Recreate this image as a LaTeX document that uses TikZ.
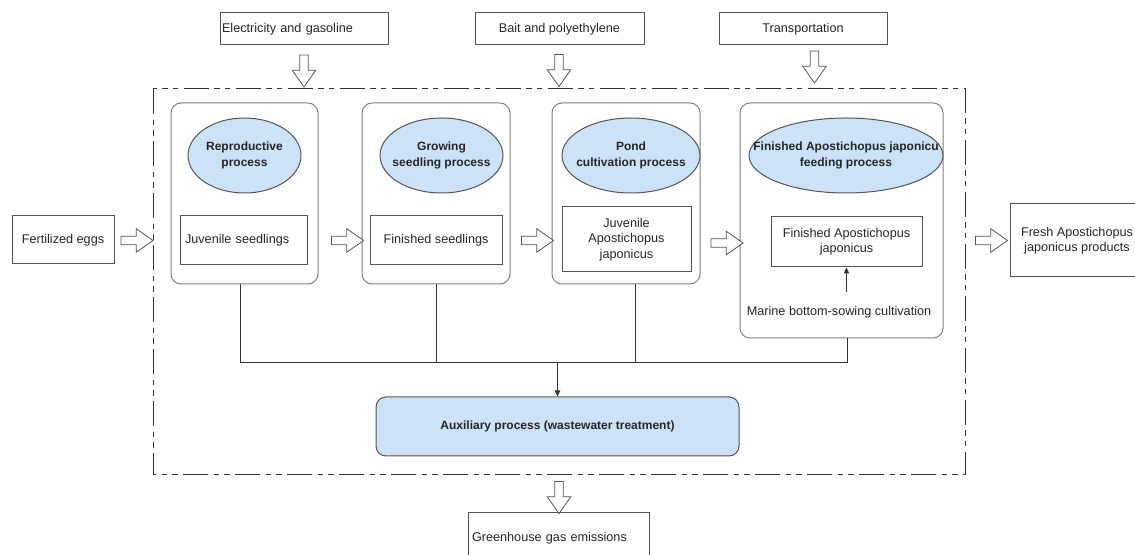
\documentclass[tikz,border=0pt]{standalone}
\usepackage{fontspec}
\setmainfont{Liberation Sans}
\usetikzlibrary{shapes.geometric,shapes.arrows,arrows.meta}
\definecolor{procblue}{RGB}{204,227,247}
\definecolor{boxgray}{RGB}{85,85,85}
\definecolor{stagegray}{RGB}{128,128,128}
\begin{document}
\begin{tikzpicture}[x=0.75pt,y=0.75pt,yscale=-1,xscale=1,
		font=\fontsize{9.5}{11.5}\selectfont,
		inbox/.style={draw=boxgray, line width=0.75pt, inner sep=1.5pt, align=center, text=black!85},
		stage/.style={draw=stagegray, line width=0.75pt, rounded corners=7.5pt},
		procell/.style={ellipse, draw=boxgray, fill=procblue, line width=0.75pt, inner sep=0pt, minimum height=56.25pt},
		proctext/.style={font=\fontsize{9}{11.5}\selectfont\bfseries, align=center, text=black!85},
		fatarrow/.style={single arrow, draw=boxgray, fill=white, line width=0.6pt, inner sep=2.9pt,
			minimum height=24pt, minimum width=17.25pt, single arrow head extend=5.6pt, single arrow tip angle=70},
		frame/.style={draw=black!80, line width=0.75pt, dash pattern=on 19pt off 4pt on 4pt off 4pt on 4pt off 4pt},
		link/.style={draw=black!80, line width=0.75pt},
		tip/.style={-{Triangle[length=4.5pt,width=4pt]}}
	]
	\useasboundingbox (0,0) rectangle (1135,555);
	
	% Input boxes
	\node[inbox, align=left, text width=123pt, minimum height=24pt] (elec) at (304,29) {Electricity and gasoline};
	\node[inbox, minimum width=126.75pt, minimum height=24pt] (bait) at (559.5,29) {Bait and polyethylene};
	\node[inbox, minimum width=126pt, minimum height=24pt] (trans) at (803,29) {Transportation};
	% Down arrows
	\node[fatarrow, shape border rotate=270] (elecin) at (304,68) {};
	\node[fatarrow, shape border rotate=270] (baitin) at (559,67.5) {};
	\node[fatarrow, shape border rotate=270] (transin) at (814.5,64) {};
	
	% System boundary
	\draw[frame] (153,89) rectangle (965,475);
	
	% Stages
	\node[stage, minimum width=110.25pt, minimum height=135.75pt] (stg1) at (244.5,193.5) {};
	\node[stage, minimum width=111pt, minimum height=135.75pt] (stg2) at (436,193.5) {};
	\node[stage, minimum width=111pt, minimum height=135.75pt] (stg3) at (626,193.5) {};
	\node[stage, minimum width=152.25pt, minimum height=176.25pt] (stg4) at (841.5,220.5) {};
	
	% Process ellipses
	\node[procell, minimum width=84.75pt, label={[proctext]center:Reproductive\\process}] (repro) at (244.5,155.5) {};
	\node[procell, minimum width=92.25pt, label={[proctext]center:Growing\\seedling process}] (grow) at (441.5,155.5) {};
	\node[procell, minimum width=103.5pt, label={[proctext]center:Pond\\cultivation process}] (pond) at (631,155.5) {};
	\node[procell, minimum width=145.5pt, label={[proctext]center:Finished Apostichopus japonicu\\feeding process}] (feed) at (846,155.5) {};
	
	% Product boxes
	\node[inbox, minimum width=76.5pt, minimum height=36pt] (eggs) at (63,240) {Fertilized eggs};
	\node[inbox, align=left, text width=87.75pt, inner xsep=3.75pt, minimum height=36.75pt] (juv) at (243.5,240.5) {Juvenile seedlings};
	\node[inbox, minimum width=99pt, minimum height=36.75pt] (seed) at (436,240.5) {Finished seedlings};
	\node[inbox, minimum width=96.75pt, minimum height=48.75pt] (juvap) at (626.5,239.5) {Juvenile\\Apostichopus\\japonicus};
	\node[inbox, minimum width=113.25pt, minimum height=37.5pt] (finap) at (846.5,242) {Finished Apostichopus\\japonicus};
	\node[inbox, minimum width=100.5pt, minimum height=54.75pt] (fresh) at (1077,240.5) {Fresh Apostichopus\\japonicus products};
	% Text Node
	\node[text=black!85, inner sep=0.75pt] (marine) at (839,312) {Marine bottom-sowing cultivation};
	
	% Flow arrows
	\node[fatarrow] (eggsin) at (134,240.5) {};
	\node[fatarrow] (juvout) at (344.5,240.5) {};
	\node[fatarrow] (seedout) at (534.5,240.5) {};
	\node[fatarrow] (juvapout) at (724,243) {};
	\node[fatarrow] (finout) at (988.5,240.5) {};
	
	% Auxiliary process
	\node[inbox, fill=procblue, rounded corners=7.5pt, minimum width=272.25pt, minimum height=44.25pt, font=\fontsize{9}{11.5}\selectfont\bfseries] (aux) at (557.5,426.5) {Auxiliary process (wastewater treatment)};
	
	% Collecting lines
	\coordinate (busL) at (240,363);
	\coordinate (busR) at (847,363);
	\coordinate (tap3) at (635,363);
	\draw[link] (stg1.south -| busL) -- (busL) -- (busR) -- (stg4.south -| busR);
	\draw[link] (stg2.south) -- (stg2.south |- busL);
	\draw[link] (stg3.south -| tap3) -- (tap3);
	\draw[link, tip] (aux.north |- busL) -- (aux.north);
	\draw[link, tip, shorten <=9.75pt] (finap.south |- marine.north) -- (finap.south);
	
	% Emissions
	\node[fatarrow, shape border rotate=270] (emisout) at (559,494.5) {};
	\node[inbox, align=left, text width=129.75pt, inner xsep=3pt, minimum height=37.5pt] (ghg) at (558.5,538) {Greenhouse gas emissions};
\end{tikzpicture}
\end{document}
